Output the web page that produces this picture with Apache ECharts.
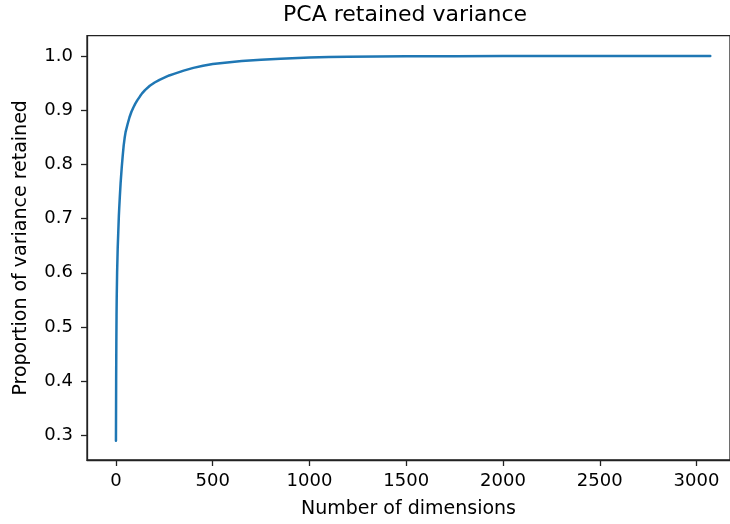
<!DOCTYPE html>
<html>
<head>
<meta charset="utf-8">
<script src="https://cdn.jsdelivr.net/npm/echarts@6/dist/echarts.min.js"></script>
<style>
html,body{margin:0;padding:0;background:#fff;}
#chart{width:730px;height:524px;}
</style>
</head>
<body>
<div id="chart"></div>
<script>
const dims = [0,1,2,3,4,6,9,12,15,17,20,24,30,35,40,45,50,60,70,80,90,100,110,125,135,150,160,175,200,225,250,275,300,350,400,450,500,550,600,650,750,850,1000,1100,1200,1350,1500,1750,2000,2500,3071];
const retained = [0.29,0.40,0.47,0.52,0.555,0.60,0.645,0.675,0.705,0.72,0.74,0.765,0.795,0.816,0.835,0.849,0.86,0.874,0.887,0.897,0.905,0.912,0.918,0.926,0.931,0.937,0.940,0.945,0.951,0.956,0.960,0.964,0.967,0.973,0.978,0.982,0.985,0.987,0.989,0.9905,0.993,0.9948,0.997,0.998,0.9985,0.9991,0.9995,0.9997,0.9999,1.0,1.0];
const xTicks = [0,500,1000,1500,2000,2500,3000];
const yTicks = [0.3,0.4,0.5,0.6,0.7,0.8,0.9,1.0];

const font = 'DejaVu Sans';
const chart = echarts.init(document.getElementById('chart'), null, {renderer:'canvas'});
chart.setOption({
  animation:false,
  backgroundColor:'#fff',
  title:{
    text:'PCA retained variance',
    left:283, top:4, padding:0,
    textStyle:{fontFamily:font,fontSize:22,fontWeight:'normal',color:'#000'}
  },
  grid:{left:87,top:35.7,right:-1,bottom:63.3,show:true,borderColor:'#222',borderWidth:1.3,backgroundColor:'transparent'},
  xAxis:{
    type:'value', min:-149.6, max:3173,
    name:'Number of dimensions', nameLocation:'middle', nameGap:40,
    nameTextStyle:{fontFamily:font,fontSize:19,color:'#000'},
    axisLine:{show:true,onZero:false,lineStyle:{color:'#222',width:1.3}},
    axisTick:{show:true,length:6,inside:false,customValues:xTicks,lineStyle:{color:'#222',width:1.3}},
    axisLabel:{customValues:xTicks,margin:12,fontFamily:font,fontSize:18,color:'#000',formatter:v=>String(v)},
    splitLine:{show:false}
  },
  yAxis:{
    type:'value', min:0.2545, max:1.0374,
    name:'Proportion of variance retained', nameLocation:'middle', nameGap:56, nameRotate:90,
    nameTextStyle:{fontFamily:font,fontSize:19,color:'#000'},
    axisLine:{show:true,onZero:false,lineStyle:{color:'#222',width:1.3}},
    axisTick:{show:true,length:6,inside:false,customValues:yTicks,lineStyle:{color:'#222',width:1.3}},
    axisLabel:{customValues:yTicks,margin:14,fontFamily:font,fontSize:18,color:'#000',formatter:v=>v.toFixed(1)},
    splitLine:{show:false}
  },
  series:[{
    type:'line',
    data:dims.map((d,i)=>[d,retained[i]]),
    showSymbol:false,
    smooth:false,
    lineStyle:{color:'#1f77b4',width:2.5,join:'round',cap:'round'},
    clip:true
  }]
});
</script>
</body>
</html>
